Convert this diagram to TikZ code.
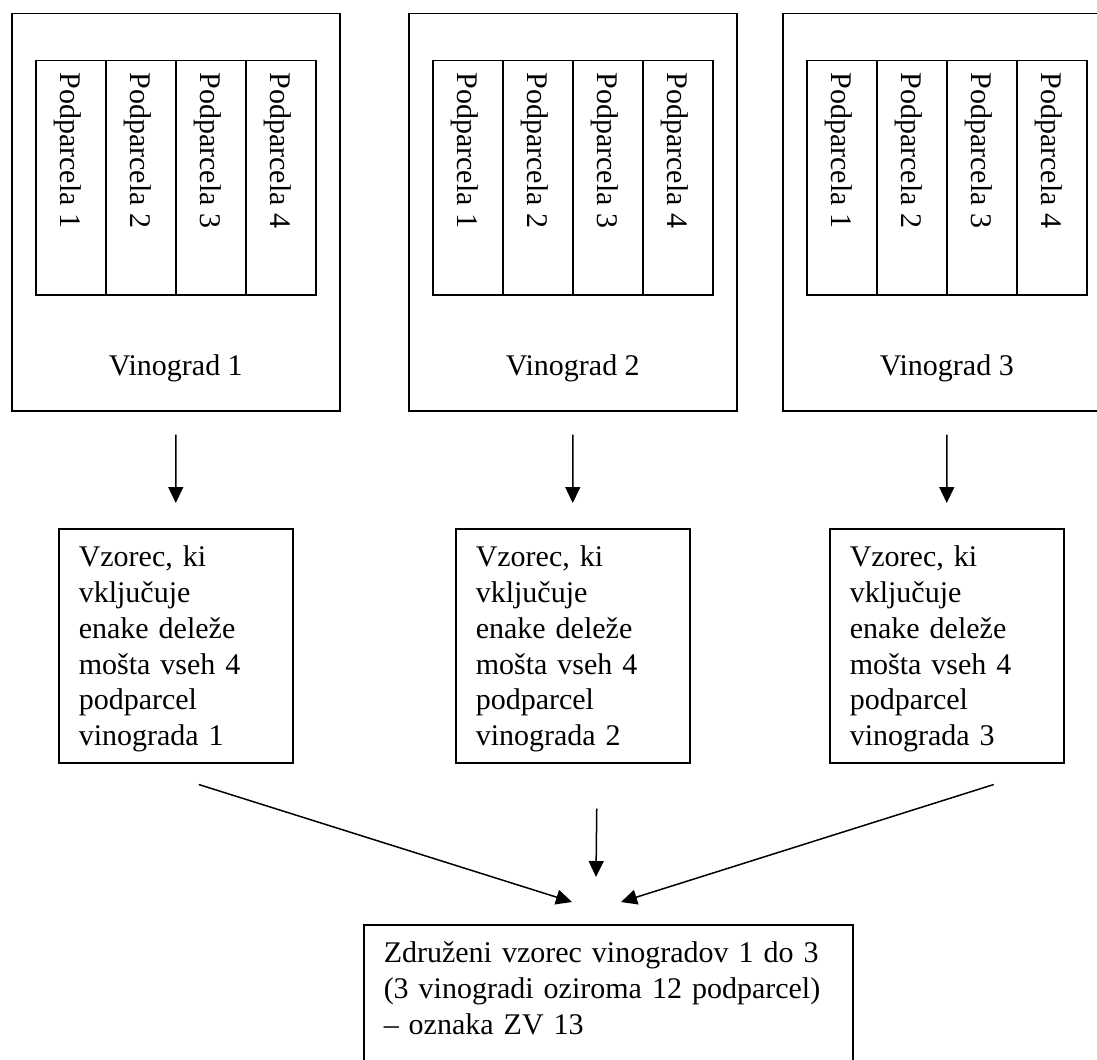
\documentclass[tikz,border=0pt]{standalone}
\usepackage{fontspec}
\setmainfont{Liberation Serif}
\usetikzlibrary{arrows.meta,positioning,calc}

\tikzset{
  vinbox/.style={draw, line width=0.6pt, anchor=north west, inner sep=0pt,
    minimum width=131.2pt, minimum height=158.8pt},
  parbox/.style={draw, line width=0.6pt, anchor=north west, inner sep=0pt,
    minimum width=28pt, minimum height=93.6pt},
  partext/.style={rotate=-90, anchor=base west, inner sep=0pt},
  vzbox/.style={draw, line width=0.6pt, anchor=north west, align=left,
    inner xsep=8pt, inner ysep=7pt, text width=77.6pt,
    text height=8.2pt, text depth=71.4pt},
  arr/.style={-{Triangle[length=6.4pt,width=6pt]}, line width=0.6pt},
}

\begin{document}
\begin{tikzpicture}[x=0.4pt, y=-0.4pt, font=\fontsize{12}{14.3}\selectfont]
  \useasboundingbox (0,0) rectangle (1097,1059);
  \clip (0,0) rectangle (1097,1059);

  % vinogradi s podparcelami
  \foreach \n/\x in {1/11, 2/408, 3/782}{
    \node[vinbox] (vin\n) at (\x,13) {};
    \node[anchor=base] (lab\n) at ($(vin\n.north)+(0,362)$) {Vinograd \n};
    \foreach \j in {1,...,4}{
      \node[parbox] (par\n\j) at ({\x+24+70*(\j-1)},60) {};
      \node[partext] at ($(par\n\j.north west)+(25,12)$) {Podparcela \j};
    }
  }

  % vzorci
  \node[vzbox] (vz1) at (58,528) {Vzorec, ki\\ vključuje\\ enake deleže\\ mošta vseh 4\\ podparcel\\ vinograda 1};
  \node[vzbox] (vz2) at (455,528) {Vzorec, ki\\ vključuje\\ enake deleže\\ mošta vseh 4\\ podparcel\\ vinograda 2};
  \node[vzbox] (vz3) at (829,528) {Vzorec, ki\\ vključuje\\ enake deleže\\ mošta vseh 4\\ podparcel\\ vinograda 3};

  \node[vzbox, text width=179.6pt, text depth=60pt] (zv) at (363,924)
    {Združeni vzorec vinogradov 1 do 3\\ (3 vinogradi oziroma 12 podparcel)\\ – oznaka ZV 13};

  \foreach \n in {1,2,3}
    \draw[arr, shorten <=9.2pt, shorten >=10pt] (vin\n) -- (vz\n);

  \coordinate (in1) at (572,902);
  \coordinate (in2) at (596,877);
  \coordinate (in3) at (621,902);
  \draw[arr] ($(vz1.south)+(23,21)$) -- (in1);
  \draw[arr] ($(vz2.south)+(24,45)$) -- (in2);
  \draw[arr] ($(vz3.south)+(47,21)$) -- (in3);
\end{tikzpicture}
\end{document}
